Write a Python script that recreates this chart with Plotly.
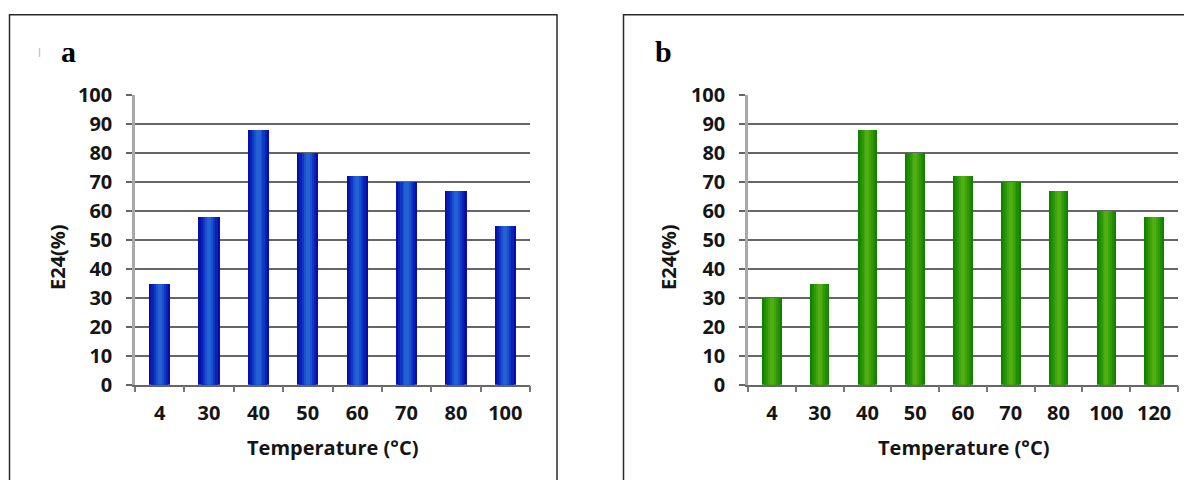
import plotly.graph_objects as go

# ---- data ----
temps_a = ["4", "30", "40", "50", "60", "70", "80", "100"]
e24_a = [35, 58, 88, 80, 72, 70, 67, 55]
temps_b = ["4", "30", "40", "50", "60", "70", "80", "100", "120"]
e24_b = [30, 35, 88, 80, 72, 70, 67, 60, 58]
y_ticks = [0, 10, 20, 30, 40, 50, 60, 70, 80, 90, 100]
x_title = "Temperature (°C)"
y_title = "E24(%)"
panel_labels = ["a", "b"]

# the page body has an 8px default margin; size the figure to fill the rest
OFF = 8
W, H = 1192 - OFF, 480 - OFF


def px(x):
    return (x - OFF) / W


def py(y):
    return 1 - (y - OFF) / H


FONT = dict(family="Open Sans", size=20, color="#151515", weight="bold")

fig = go.Figure()

blue_layers = [(1.0, "#0610a8"), (0.8, "#0a20b6"), (0.58, "#1038c2"), (0.38, "#1a50cc"), (0.2, "#2262d4")]
green_layers = [(1.0, "#138000"), (0.8, "#1f8e03"), (0.58, "#2f9a07"), (0.38, "#40a40c"), (0.2, "#50ae12")]

for frac, col in blue_layers:
    fig.add_trace(go.Bar(x=temps_a, y=e24_a, width=[0.43 * frac] * len(temps_a),
                         marker=dict(color=col, line=dict(width=0)),
                         xaxis="x", yaxis="y", showlegend=False, hoverinfo="x+y"))
for frac, col in green_layers:
    fig.add_trace(go.Bar(x=temps_b, y=e24_b, width=[0.41 * frac] * len(temps_b),
                         marker=dict(color=col, line=dict(width=0)),
                         xaxis="x2", yaxis="y2", showlegend=False, hoverinfo="x+y"))

ydom = [py(384.7), py(94.7)]

xcommon = dict(type="category", tickson="boundaries", ticks="outside", ticklen=6,
               tickcolor="#777777", tickwidth=1.5, showline=True, linecolor="#666666",
               linewidth=1.5, showgrid=False, zeroline=False, tickfont=FONT,
               ticklabelstandoff=10, automargin=False, fixedrange=True)
ycommon = dict(range=[0, 100], tickvals=y_ticks, ticks="outside", ticklen=6,
               tickcolor="#666666", tickwidth=1.5, showline=True, linecolor="#a8a8a8",
               linewidth=2.5, showgrid=True, gridcolor="#666666", gridwidth=1.6,
               zeroline=False, tickfont=FONT, ticklabelstandoff=10, automargin=False,
               fixedrange=True)

fig.update_layout(
    width=W, height=H, autosize=False,
    margin=dict(l=0, r=0, t=0, b=0, pad=0),
    paper_bgcolor="white", plot_bgcolor="rgba(0,0,0,0)",
    barmode="overlay", bargap=0,
    xaxis=dict(domain=[px(135), px(530)], range=[-0.5, len(temps_a) - 0.5], anchor="y", **xcommon),
    yaxis=dict(domain=ydom, anchor="x", **ycommon),
    xaxis2=dict(domain=[px(748), px(1178)], range=[-0.5, len(temps_b) - 0.5], anchor="y2", **xcommon),
    yaxis2=dict(domain=ydom, anchor="x2", **ycommon),
)

annotations = []
for cx, lab in [(68, panel_labels[0]), (663, panel_labels[1])]:
    annotations.append(dict(x=px(cx), y=py(52), xref="paper", yref="paper", text=lab,
                            showarrow=False, xanchor="center", yanchor="middle",
                            font=dict(family="Liberation Serif", size=30, color="#000", weight="bold")))
for cx in [332.5, 963]:
    annotations.append(dict(x=px(cx), y=py(447), xref="paper", yref="paper", text=x_title,
                            showarrow=False, xanchor="center", yanchor="middle", font=FONT))
for cx in [57, 668]:
    annotations.append(dict(x=px(cx), y=py(257), xref="paper", yref="paper", text=y_title,
                            showarrow=False, xanchor="center", yanchor="middle", textangle=-90,
                            font=FONT))
fig.update_layout(annotations=annotations)

shapes = [
    dict(type="rect", xref="paper", yref="paper", x0=px(9.5), x1=px(557), y0=-0.2, y1=py(14.7),
         line=dict(color="#2a2a2a", width=1.5), fillcolor="rgba(0,0,0,0)", layer="below"),
    dict(type="rect", xref="paper", yref="paper", x0=px(623.5), x1=px(1240), y0=-0.2, y1=py(14.7),
         line=dict(color="#2a2a2a", width=1.5), fillcolor="rgba(0,0,0,0)", layer="below"),
    # faint scan mark left of panel label "a"
    dict(type="line", xref="paper", yref="paper", x0=px(39.5), x1=px(39.5), y0=py(57), y1=py(48),
         line=dict(color="#c8c8c8", width=1.5), layer="below"),
]
fig.update_layout(shapes=shapes)

fig.write_html("out.html", config={"displayModeBar": False})
